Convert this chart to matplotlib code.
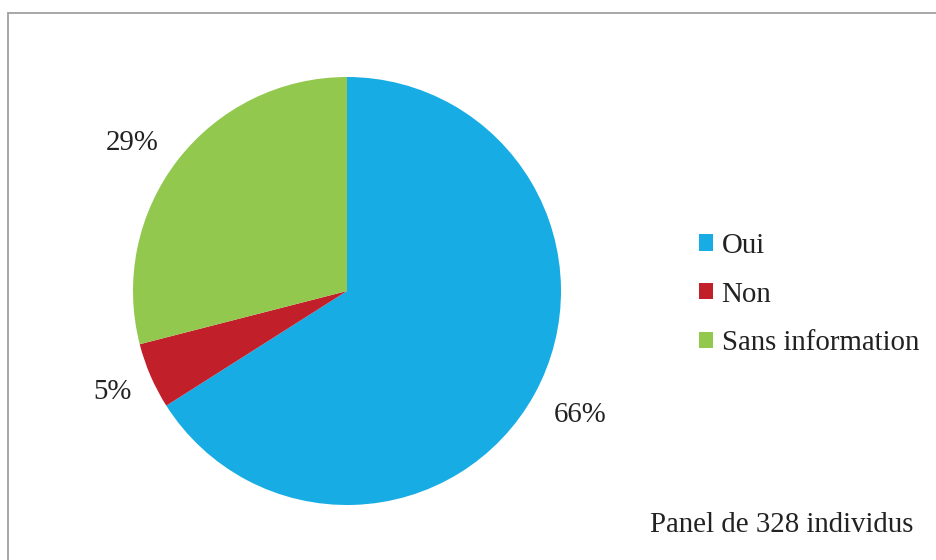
import matplotlib
matplotlib.use("Agg")
import matplotlib.pyplot as plt
from matplotlib.patches import Patch, Rectangle

categories = ["Oui", "Non", "Sans information"]
values = [66, 5, 29]
colors = ["#17ACE3", "#C1202A", "#92C84E"]
note = "Panel de 328 individus"

# label placement (pie-radius units), mimicking the original best-fit layout
label_pos = [(1.088, -0.580), (-1.098, -0.474), (-1.005, 0.693)]

plt.rcParams['font.family'] = ['Liberation Serif', 'DejaVu Serif']
FS = 20.8

W, H = 937, 560
fig = plt.figure(figsize=(W / 100, H / 100), dpi=100)

cx, cy, r = 347, 291, 214
ax = fig.add_axes([(cx - r) / W, 1 - (cy + r) / H, 2 * r / W, 2 * r / H])
wedges, texts, autotexts = ax.pie(
    values, colors=colors, startangle=90, counterclock=False, radius=1,
    autopct=lambda p: f"{p:.0f}%", pctdistance=1.21,
    textprops=dict(fontsize=FS, color="#222222"))
for t, pos in zip(autotexts, label_pos):
    t.set_position(pos)
ax.set_xlim(-1, 1)
ax.set_ylim(-1, 1)
ax.set_aspect('auto')
ax.axis('off')

handles = [Patch(facecolor=c, edgecolor='none') for c in colors]
fig.legend(handles, categories, loc='center left',
           bbox_to_anchor=(699 / W, 1 - 294.5 / H), frameon=False,
           fontsize=FS, handlelength=0.5, handleheight=0.5,
           handletextpad=0.28, labelspacing=0.78, borderpad=0,
           borderaxespad=0, labelcolor="#222222")

fig.text(650 / W, 1 - 525 / H, note, fontsize=FS, va='center', ha='left',
         color="#222222")

fig.patches.append(Rectangle((8.5 / W, -0.1), 2, 1 - 12.5 / H + 0.1,
                             transform=fig.transFigure, fill=False,
                             edgecolor="#A0A0A0", linewidth=1.3))

fig.savefig("out.png", dpi=100)
